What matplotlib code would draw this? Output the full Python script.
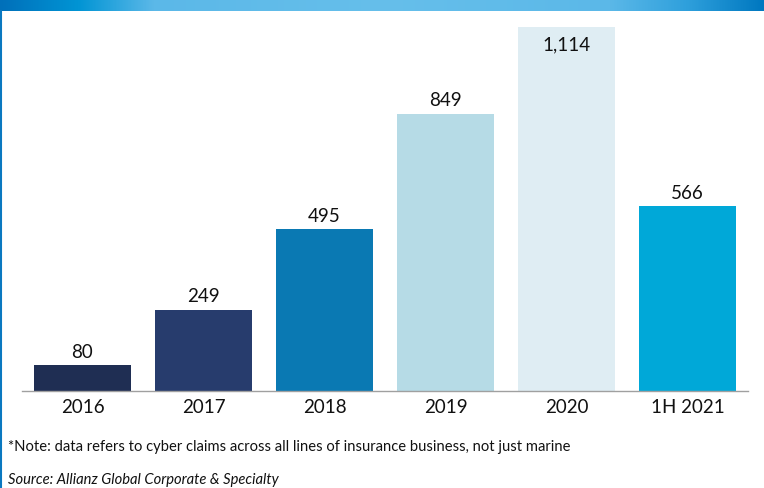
import numpy as np
import matplotlib.pyplot as plt
from matplotlib.colors import LinearSegmentedColormap

# ── DATA ──────────────────────────────────────────────────────────────────────
categories = ["2016", "2017", "2018", "2019", "2020", "1H 2021"]
claims     = [80, 249, 495, 849, 1114, 566]
labels     = ["80", "249", "495", "849", "1,114", "566"]
colors     = ["#1f2e53", "#273c6d", "#0a79b3", "#b6dbe6", "#dfedf3", "#00a8d8"]

plt.rcParams["font.family"] = ["Lato", "DejaVu Sans"]

# ── FIGURE ────────────────────────────────────────────────────────────────────
W, H = 764, 488
fig = plt.figure(figsize=(W / 100, H / 100), dpi=100)

# top banner gradient
banner = fig.add_axes([0, 1 - 11 / H, 1, 11 / H])
cmap = LinearSegmentedColormap.from_list(
    "banner",
    [(0.0, "#0070ba"), (0.1, "#0094d4"), (0.2, "#5bb8e8"), (0.5, "#66bfeb"),
     (0.8, "#5bb8e8"), (0.9, "#2fa0dc"), (1.0, "#0078c0")])
banner.imshow(np.linspace(0, 1, 256)[None, :], aspect="auto", cmap=cmap,
              extent=[0, 1, 0, 1])
banner.axis("off")

# left border line
fig.add_artist(plt.Line2D([0.5 / W, 0.5 / W], [0, 1 - 11 / H],
                          color="#0a78c0", lw=1.5, transform=fig.transFigure))

# ── BARS ──────────────────────────────────────────────────────────────────────
base_y, top_y = 391, 27
ax = fig.add_axes([22 / W, 1 - base_y / H, (748 - 22) / W, (base_y - top_y) / H])
x = np.arange(len(categories))
bars = ax.bar(x, claims, width=0.8, color=colors)
ax.set_xlim(-0.5, 5.5)
ax.set_ylim(0, max(claims))

for i, (b, lab) in enumerate(zip(bars, labels)):
    if claims[i] == max(claims):
        ax.annotate(lab, (b.get_x() + b.get_width() / 2, b.get_height()),
                    xytext=(0, -7), textcoords="offset points",
                    ha="center", va="top", fontsize=13.5, color="#111111")
    else:
        ax.annotate(lab, (b.get_x() + b.get_width() / 2, b.get_height()),
                    xytext=(0, 3), textcoords="offset points",
                    ha="center", va="bottom", fontsize=13.5, color="#111111")

ax.set_xticks(x)
ax.set_xticklabels(categories, fontsize=13.5, color="#111111")
ax.tick_params(axis="x", length=0, pad=6)
ax.set_yticks([])
for s in ["top", "right", "left"]:
    ax.spines[s].set_visible(False)
ax.spines["bottom"].set_color("#a0a0a0")
ax.spines["bottom"].set_linewidth(1)

# ── NOTES ─────────────────────────────────────────────────────────────────────
fig.text(8 / W, 1 - 447 / H,
         "*Note: data refers to cyber claims across all lines of insurance business, not just marine",
         fontsize=10.6, color="#111111", va="center", ha="left")
fig.text(8 / W, 1 - 480 / H, "Source: Allianz Global Corporate & Specialty",
         fontsize=10.6, color="#111111", va="center", ha="left", style="italic")

fig.savefig("out.png", dpi=100)
